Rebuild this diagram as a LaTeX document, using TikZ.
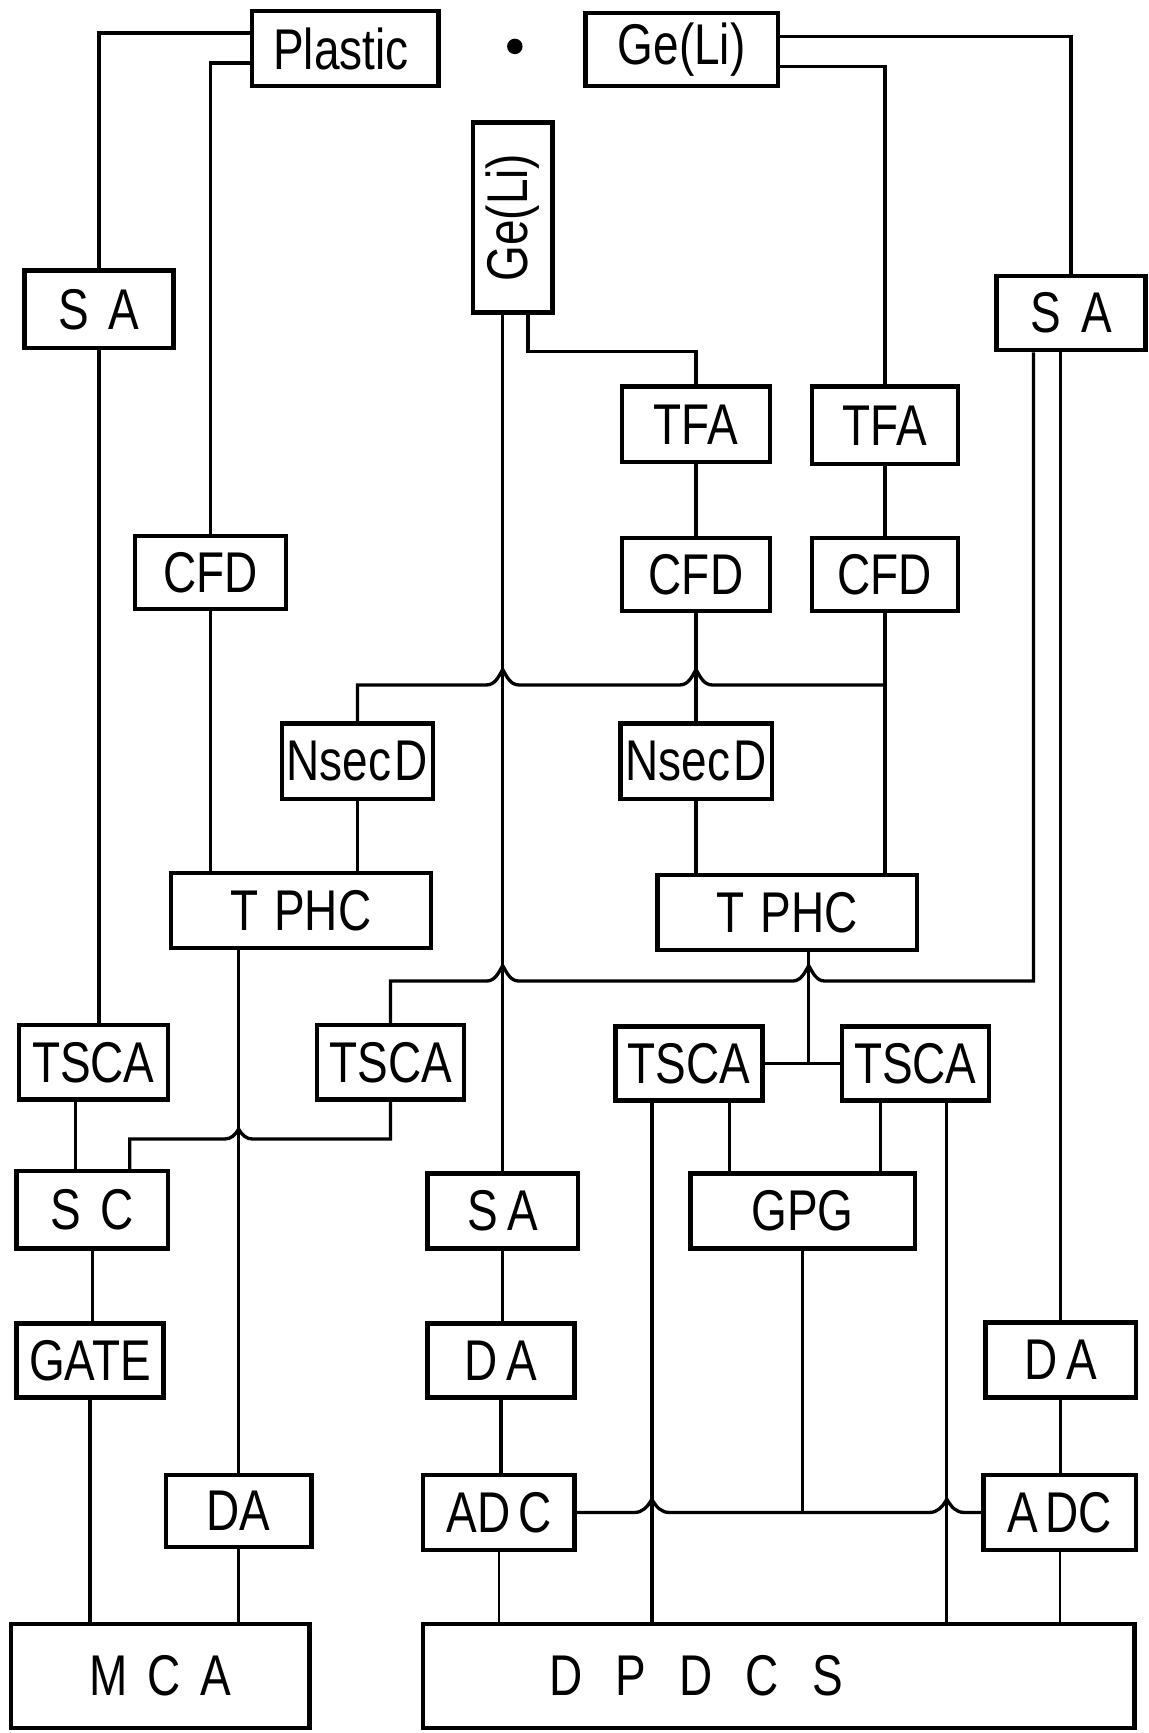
\documentclass[tikz,border=0pt]{standalone}
\usepackage{fontspec}
\newfontfamily\lettering{Liberation Sans}[FakeStretch=0.8]
\newcommand{\lgap}{\hspace{18pt}}
\usepackage{tikz}
\tikzset{blk/.style={draw, line width=4pt, inner sep=0pt, font=\lettering\fontsize{52}{60}\selectfont},
         sz/.style 2 args={minimum width=#1pt, minimum height=#2pt}}

\begin{document}
\begin{tikzpicture}[x=1pt, y=1pt, line width=3pt]
    \path[use as bounding box, fill=white] (0,0) rectangle (1040,-1568.6);

    \node[blk, sz={169}{68}] (plastic) at (312.5,-44) {Plastic\hspace{8pt}\mbox{}};
    \node[circle, fill, inner sep=0pt, minimum size=14pt] (src) at (466,-42) {};
    \node[blk, sz={174}{66}] (geli1) at (617,-45) {Ge(Li)};
    \node[blk, sz={72}{172}] (geli2) at (464,-197) {\rotatebox{90}{Ge(Li)}};
    \node[blk, sz={135}{70}] (saL) at (89.5,-280) {S\lgap A};
    \node[blk, sz={135}{67}] (saR) at (969.5,-283.5) {S\lgap A};
    \node[blk, sz={134}{68}] (tfaM) at (630,-384) {TFA};
    \node[blk, sz={132}{70}] (tfaR) at (801,-385) {TFA};
    \node[blk, sz={137}{66}] (cfdL) at (190.5,-518) {CFD};
    \node[blk, sz={134}{66}] (cfdM) at (630,-520) {CFD};
    \node[blk, sz={132}{66}] (cfdR) at (801,-520) {CFD};
    \node[blk, sz={137}{68}] (nsecL) at (323.5,-689) {Nsec\hspace{3pt}D};
    \node[blk, sz={137}{68}] (nsecM) at (630,-689) {Nsec\hspace{3pt}D};
    \node[blk, sz={235}{68}] (tphcL) at (272.5,-824) {T\hspace{14pt}PHC};
    \node[blk, sz={235}{68}] (tphcR) at (712.5,-826) {T\hspace{14pt}PHC};
    \node[blk, sz={135}{67}] (tsca1) at (84.5,-961.5) {TSCA};
    \node[blk, sz={133}{67}] (tsca2) at (353.5,-961.5) {TSCA};
    \node[blk, sz={133}{67}] (tsca3) at (623.5,-962.5) {TSCA};
    \node[blk, sz={133}{67}] (tsca4) at (828.5,-962.5) {TSCA};
    \node[blk, sz={137}{70}] (sc) at (83.5,-1095) {S\lgap C};
    \node[blk, sz={136}{68}] (saM) at (455,-1096) {S\hspace{8pt}A};
    \node[blk, sz={203}{68}] (gpg) at (726.5,-1096) {GPG};
    \node[blk, sz={133}{67}] (gate) at (81.5,-1231.5) {GATE};
    \node[blk, sz={133}{67}] (daM) at (453.5,-1231.5) {D\hspace{8pt}A};
    \node[blk, sz={136}{68}] (daR) at (960,-1231) {D\hspace{8pt}A};
    \node[blk, sz={132}{65}] (daL) at (216,-1367.5) {DA};
    \node[blk, sz={137}{68}] (adcM) at (451.5,-1369) {AD\hspace{7pt}C};
    \node[blk, sz={138}{68}] (adcR) at (959,-1369) {A\hspace{7pt}DC};
    \node[blk, sz={270}{94}] (mca) at (145,-1517) {M\lgap C\lgap A};
    \node[blk, sz={644}{94}] (dpdcs) at (705,-1517) {D\hspace{30pt}P\hspace{30pt}D\hspace{30pt}C\hspace{30pt}S\hspace{150pt}\mbox{}};

    \coordinate (t34) at ([xshift=40pt]tsca3.east);
    \coordinate (v1) at ([xshift=-33.5pt]tsca3.south);
    \coordinate (v2) at ([xshift=28.5pt]tsca4.south);
    \coordinate (lvA) at ([yshift=33pt]nsecL.north);
    \coordinate (lvB) at ([yshift=38pt]tsca2.north);
    \coordinate (lvC) at ([yshift=-34pt]tsca2.south);
    \coordinate (h1) at (saM.north |- lvA);
    \coordinate (h2) at (cfdM.south |- lvA);
    \coordinate (h5) at (saM.north |- lvB);
    \coordinate (h4) at (t34 |- lvB);
    \coordinate (h3) at (daL.north |- lvC);
    \coordinate (h6) at (v1 |- adcM.east);
    \coordinate (h7) at (v2 |- adcM.east);

    \draw ([yshift=14pt]plastic.west) -| (saL.north);
    \draw ([yshift=-13pt]plastic.west) -| (cfdL.north);
    \draw ([yshift=12pt]geli1.east) -| (saR.north);
    \draw ([yshift=-15pt]geli1.east) -| (tfaR.north);
    \draw (geli2.south -| saM.north) -- (saM.north);
    \draw ([xshift=14pt]geli2.south) -- ++(0,-33) -| (tfaM.north);
    \draw (saL.south) -- (saL.south |- tsca1.north);
    \draw (cfdL.south) -- (cfdL.south |- tphcL.north);
    \draw (tfaM.south) -- (cfdM.north);
    \draw (cfdM.south) -- (nsecM.north);
    \draw (tfaR.south) -- (cfdR.north);
    \draw (cfdR.south) -- (cfdR.south |- tphcR.north);
    \draw (nsecL.north) |- ([xshift=-15pt]h1) to[out=0,in=-120] ([yshift=14pt]h1) to[out=-60,in=180] ([xshift=15pt]h1)
          -- ([xshift=-15pt]h2) to[out=0,in=-120] ([yshift=14pt]h2) to[out=-60,in=180] ([xshift=15pt]h2) -- (cfdR.south |- h2);
    \draw (nsecL.south) -- (nsecL.south |- tphcL.north);
    \draw (nsecM.south) -- (nsecM.south |- tphcR.north);
    \draw (tphcL.south -| daL.north) -- (daL.north);
    \draw (tphcR.south -| t34) -- (t34);
    \draw (tsca3.east) -- (tsca4.west);
    \draw (tsca2.north) |- ([xshift=-15pt]h5) to[out=0,in=-120] ([yshift=14pt]h5) to[out=-60,in=180] ([xshift=15pt]h5)
          -- ([xshift=-15pt]h4) to[out=0,in=-120] ([yshift=14pt]h4) to[out=-60,in=180] ([xshift=15pt]h4) -| ([xshift=-34pt]saR.south);
    \draw (saR.south -| daR.north) -- (daR.north);
    \draw ([xshift=-16pt]tsca1.south) -- ([xshift=-16pt]tsca1.south |- sc.north);
    \draw ([xshift=34pt]sc.north) |- ([xshift=-13pt]h3) to[out=0,in=-120] ([yshift=9pt]h3) to[out=-60,in=180] ([xshift=13pt]h3) -| (tsca2.south);
    \draw (v1) -- (v1 |- dpdcs.north);
    \draw ([xshift=36.5pt]tsca3.south) -- ([xshift=36.5pt]tsca3.south |- gpg.north);
    \draw ([xshift=-31.5pt]tsca4.south) -- ([xshift=-31.5pt]tsca4.south |- gpg.north);
    \draw (v2) -- (v2 |- dpdcs.north);
    \draw (sc.south) -- (sc.south |- gate.north);
    \draw (gate.south) -- (gate.south |- mca.north);
    \draw (daL.south) -- (daL.south |- mca.north);
    \draw (saM.south) -- (saM.south |- daM.north);
    \draw (daM.south) -- (daM.south |- adcM.north);
    \draw[line width=1.8pt] (adcM.south) -- (adcM.south |- dpdcs.north);
    \draw (gpg.south) -- (gpg.south |- adcM.east);
    \draw (adcM.east) -- ([xshift=-16pt]h6) to[out=0,in=-120] ([yshift=12pt]h6) to[out=-60,in=180] ([xshift=16pt]h6)
          -- ([xshift=-16pt]h7) to[out=0,in=-120] ([yshift=12pt]h7) to[out=-60,in=180] ([xshift=16pt]h7) -- (adcR.west);
    \draw (daR.south) -- (daR.south |- adcR.north);
    \draw[line width=1.8pt] (adcR.south) -- (adcR.south |- dpdcs.north);
\end{tikzpicture}
\end{document}
